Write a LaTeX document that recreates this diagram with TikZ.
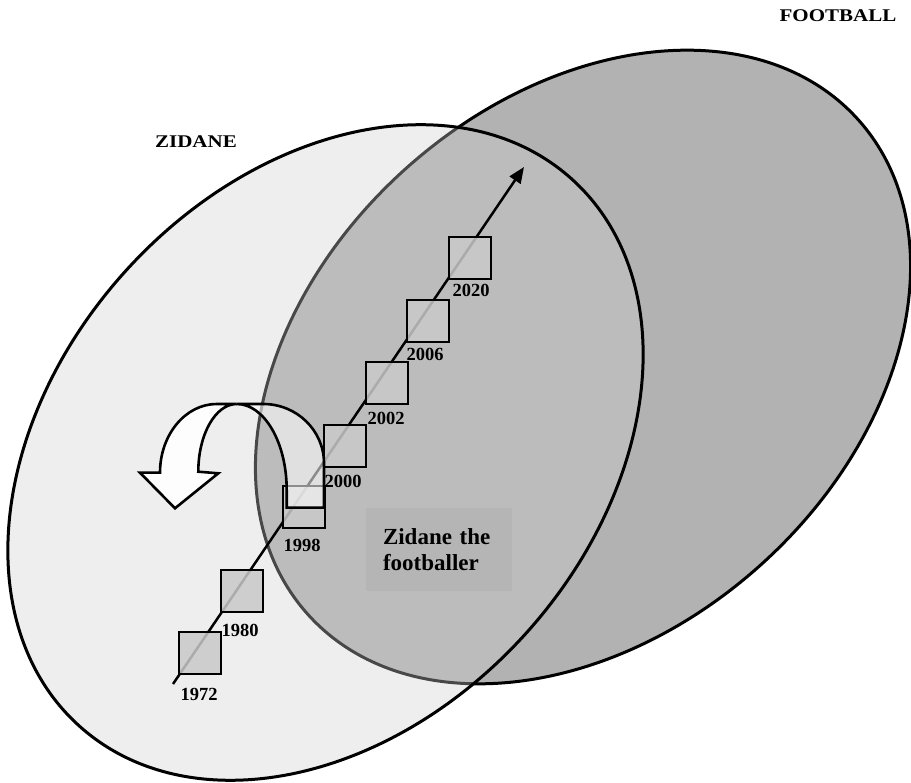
\documentclass[tikz,border=0pt]{standalone}
\usepackage{fontspec}
\setmainfont{Liberation Serif}
\usetikzlibrary{shapes.geometric,arrows.meta}
\begin{document}
\begin{tikzpicture}[x=1pt,y=-1pt,
  ell/.style={ellipse, draw=black, draw opacity=1, line width=3pt, inner sep=0pt, outer sep=0pt},
  yearbox/.style={rectangle, draw=black, draw opacity=1, line width=1.6pt, fill=black!21, fill opacity=0.85, minimum size=42pt, inner sep=0pt},
  yearlbl/.style={font=\fontsize{18.5}{18.5}\selectfont\bfseries, inner sep=0pt, text opacity=1},
  biglbl/.style={font=\fontsize{21}{21}\selectfont\bfseries, inner sep=0pt},
  uarrow/.style={draw=black, draw opacity=1, line width=2.6pt, fill=white}]
\useasboundingbox (0,0) rectangle (911,783);
\fill[white] (0,0) rectangle (911,783);

% ellipses
\node[ell, fill=black!30, rotate=42, minimum width=740pt, minimum height=532pt] (football) at (583,367) {};
\node[ell, fill=black!18, fill opacity=0.35, rotate=48, minimum width=736pt, minimum height=540pt] (zidane) at (325.5,452.5) {};

% text box
\node[rectangle, fill=black!29, minimum width=146pt, minimum height=83pt, text width=112pt, inner xsep=17pt, align=left,
      font=\fontsize{23}{26}\selectfont\bfseries] (zbox) at (439,549.5) {Zidane the\\footballer};

% timeline
\coordinate (tstart) at (173,684);
\coordinate (tend) at (524,167);
\draw[line width=2.5pt, -{Triangle[length=16pt,width=13pt]}] (tstart) -- (tend);

\node[yearbox] (s1972) at (200,653) {};
\node[yearbox] (s1980) at (242,591) {};
\node[yearbox] (s1998) at (304,507) {};
\node[yearbox] (s2000) at (345,446) {};
\node[yearbox] (s2002) at (387,383) {};
\node[yearbox] (s2006) at (428,321) {};
\node[yearbox] (s2020) at (470,258) {};

\node[yearlbl] (l1972) at (199,694) {1972};
\node[yearlbl] (l1980) at (240,630) {1980};
\node[yearlbl] (l1998) at (302,545) {1998};
\node[yearlbl] (l2000) at (343,481) {2000};
\node[yearlbl] (l2002) at (386,418) {2002};
\node[yearlbl] (l2006) at (425,354) {2006};
\node[yearlbl] (l2020) at (471,290) {2020};

% U-turn arrow: back (tail) part
\path[uarrow, fill opacity=0.55] (286.7,507.7) -- (324,507.7) -- (324,463.3)
  .. controls (324,430.4) and (296.7,404) .. (263.3,404) -- (236.7,404)
  .. controls (264.3,404) and (286.7,442.5) .. (286.7,490) -- cycle;
% front (head) part
\path[uarrow, fill opacity=0.9] (216.7,404) -- (236.7,404)
  .. controls (215.5,404) and (198.3,434.3) .. (198.3,471.7) -- (218.3,473.3) -- (175,508.3)
  -- (140,472.7) -- (160,472.7)
  .. controls (160,434.8) and (185.4,404) .. (216.7,404) -- cycle;

% labels
\node[biglbl] (zlabel) at (196,142) {\scalebox{1}[0.85]{ZIDANE}};
\node[biglbl] (flabel) at (838,16) {\scalebox{1}[0.85]{FOOTBALL}};
\end{tikzpicture}
\end{document}
